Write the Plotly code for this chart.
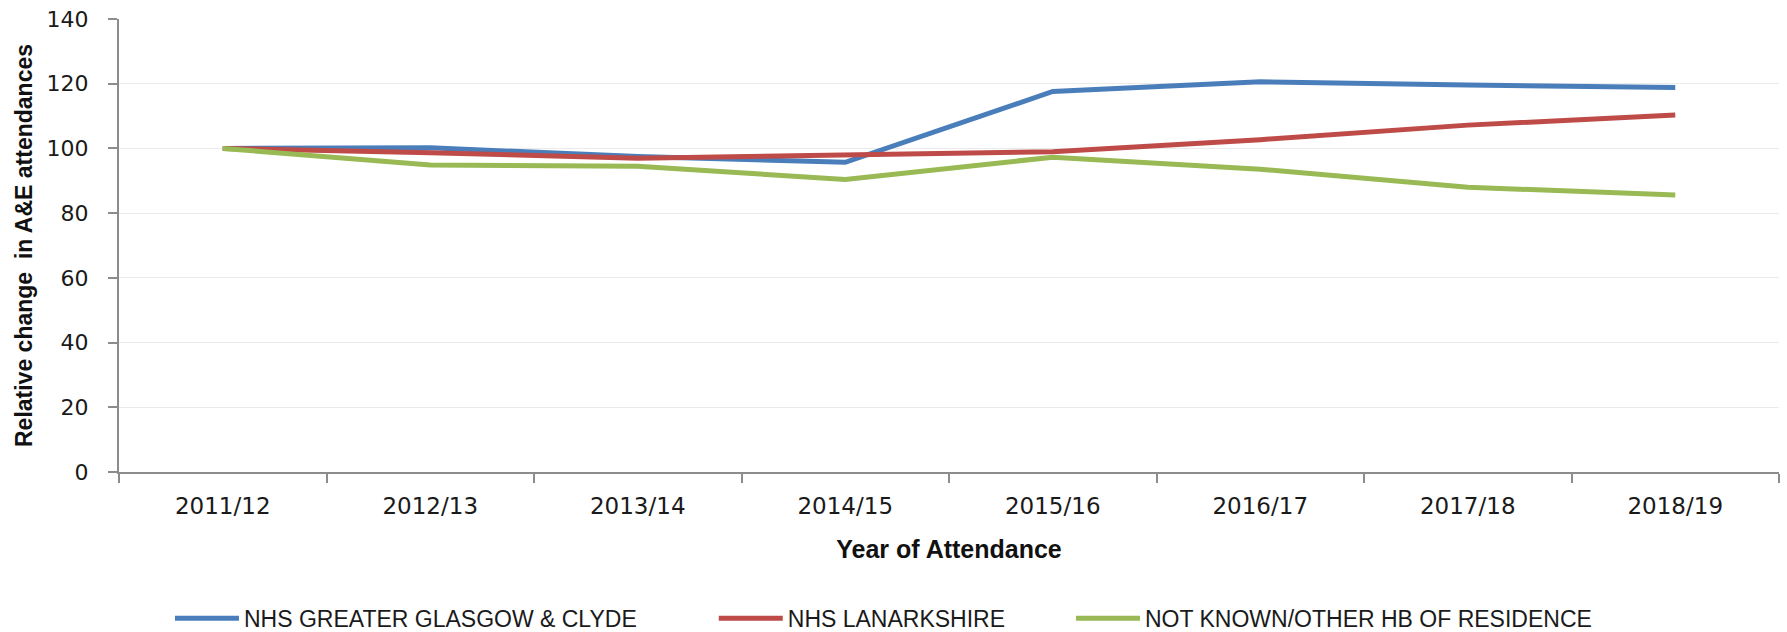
import plotly.graph_objects as go

years = ["2011/12", "2012/13", "2013/14", "2014/15", "2015/16", "2016/17", "2017/18", "2018/19"]
glasgow = [100, 100.2, 97.5, 95.7, 117.6, 120.6, 119.6, 118.8]
lanarkshire = [100, 98.7, 97.0, 98.0, 99.0, 102.7, 107.2, 110.3]
not_known = [100, 94.9, 94.5, 90.4, 97.3, 93.6, 88.0, 85.6]

names = ["NHS GREATER GLASGOW & CLYDE", "NHS LANARKSHIRE", "NOT KNOWN/OTHER HB OF RESIDENCE"]
colors = ["#4A7EBB", "#BE4B48", "#98B954"]
series = [glasgow, lanarkshire, not_known]
legend_ids = ["legend", "legend2", "legend3"]
legend_x = [0.0307, 0.3583, 0.5735]

fig = go.Figure()
for nm, col, vals, lid in zip(names, colors, series, legend_ids):
    fig.add_trace(go.Scatter(x=years, y=vals, mode="lines", name=nm,
                             line=dict(color=col, width=5), legend=lid))

leg_common = dict(orientation="h", yanchor="middle", xanchor="left", y=-0.323,
                  font=dict(family="Liberation Sans, Arial, sans-serif", size=23, color="#1a1a1a"),
                  itemwidth=64, bgcolor="rgba(0,0,0,0)", borderwidth=0)

fig.update_layout(
    width=1787, height=632,
    margin=dict(l=119, r=8, t=19, b=160, autoexpand=False),
    plot_bgcolor="white", paper_bgcolor="white",
    showlegend=True,
    legend=dict(x=legend_x[0], **leg_common),
    legend2=dict(x=legend_x[1], **leg_common),
    legend3=dict(x=legend_x[2], **leg_common),
    xaxis=dict(
        type="category", range=[-0.5, 7.5], tickson="boundaries", automargin=False,
        showline=True, linecolor="#8c8c8c", linewidth=2,
        ticks="outside", ticklen=9, tickcolor="#8c8c8c", tickwidth=2,
        showgrid=False, zeroline=False,
        tickfont=dict(family="DejaVu Sans, Verdana, sans-serif", size=23, color="#1a1a1a"),
        ticklabelstandoff=12,
        title=dict(text="Year of Attendance", standoff=23,
                   font=dict(family="Liberation Sans, Arial, sans-serif", size=25, color="#111111", weight="bold")),
    ),
    yaxis=dict(
        range=[0, 140], tickmode="array", tickvals=[0, 20, 40, 60, 80, 100, 120, 140], automargin=False,
        showline=True, linecolor="#8c8c8c", linewidth=2,
        ticks="outside", ticklen=9, tickcolor="#8c8c8c", tickwidth=2,
        showgrid=True, gridcolor="#ebebeb", gridwidth=1, zeroline=False,
        tickfont=dict(family="DejaVu Sans, Verdana, sans-serif", size=22, color="#1a1a1a"),
        ticklabelstandoff=15,
        title=dict(text="Relative change  in A&E attendances", standoff=8,
                   font=dict(family="Liberation Sans, Arial, sans-serif", size=23, color="#111111", weight="bold")),
    ),
)

fig.write_html("out.html", config={"displayModeBar": False},
               post_script="document.body.style.margin='0';")
